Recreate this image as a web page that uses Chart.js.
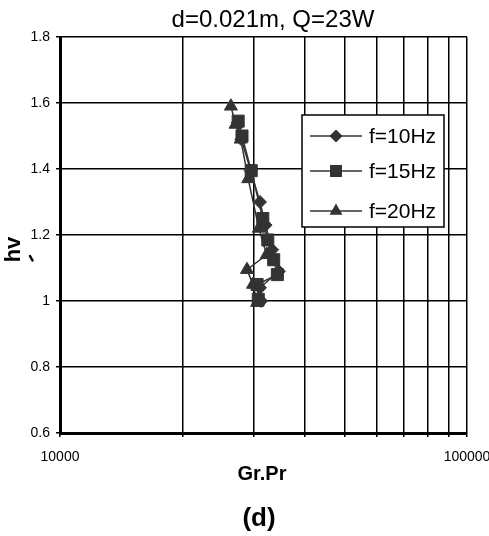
<!DOCTYPE html>
<html>
<head>
<meta charset="utf-8">
<script src="https://cdn.jsdelivr.net/npm/chart.js@4/dist/chart.umd.min.js"></script>
<style>
html,body{margin:0;padding:0;background:#fff;}
canvas{display:block;}
</style>
</head>
<body>
<canvas id="c" width="489" height="536"></canvas>
<script>
const titleText = "d=0.021m, Q=23W";
const xLabel = "Gr.Pr";
const yLabel = "hv";
const panelLabel = "(d)";
const seriesNames = ["f=10Hz", "f=15Hz", "f=20Hz"];
const xTickValues = [10000, 20000, 30000, 40000, 50000, 60000, 70000, 80000, 90000, 100000];
const xTickLabels = {10000: "10000", 100000: "100000"};

const f10x = [27300, 27900, 29400, 31000, 32000, 33200, 34500, 31000, 31200];
const f10y = [1.54, 1.49, 1.395, 1.30, 1.23, 1.155, 1.09, 1.04, 1.00];
const f15x = [27400, 28000, 29500, 31500, 32400, 33500, 34200, 30500, 30700];
const f15y = [1.545, 1.50, 1.395, 1.25, 1.185, 1.125, 1.08, 1.05, 1.005];
const f20x = [26300, 27000, 27800, 29000, 30800, 32200, 28800, 29800, 30500];
const f20y = [1.59, 1.535, 1.49, 1.37, 1.22, 1.14, 1.095, 1.05, 0.995];

function pts(xs, ys){ return xs.map((x,i)=>({x:x, y:ys[i]})); }

const styles = [
  {pointStyle:'rectRot', radius:6.5},
  {pointStyle:'rect', radius:8.5},
  {pointStyle:'triangle', radius:7.5}
];
const dataArr = [pts(f10x,f10y), pts(f15x,f15y), pts(f20x,f20y)];

const datasets = dataArr.map((d,i)=>({
  label: seriesNames[i],
  data: d,
  showLine: true,
  borderColor: '#333',
  backgroundColor: '#333',
  borderWidth: 1.5,
  pointStyle: styles[i].pointStyle,
  pointRadius: styles[i].radius,
  pointHoverRadius: styles[i].radius,
  pointBackgroundColor: '#333',
  pointBorderColor: '#333',
  pointBorderWidth: 1,
  tension: 0
}));

function drawMarker(ctx, style, x, y, r){
  ctx.beginPath();
  if(style==='rectRot'){
    ctx.moveTo(x-r,y); ctx.lineTo(x,y-r); ctx.lineTo(x+r,y); ctx.lineTo(x,y+r);
  } else if(style==='rect'){
    const s = Math.SQRT1_2*r;
    ctx.rect(x-s,y-s,2*s,2*s);
  } else {
    for(let k=0;k<3;k++){
      const a = k*2*Math.PI/3;
      const px = x + Math.sin(a)*r, py = y - Math.cos(a)*r;
      if(k===0) ctx.moveTo(px,py); else ctx.lineTo(px,py);
    }
  }
  ctx.closePath();
  ctx.fill();
}

const FONT = '"Liberation Sans", Arial, sans-serif';

const textPlugin = {
  id:'texts',
  afterDraw(chart){
    const ctx = chart.ctx;
    ctx.save();
    ctx.fillStyle = '#000';
    ctx.font = '24px ' + FONT;
    ctx.textAlign = 'center';
    ctx.textBaseline = 'alphabetic';
    ctx.fillText(titleText, 273, 27);
    ctx.font = 'bold 20px ' + FONT;
    ctx.fillText(xLabel, 262, 480);
    ctx.font = 'bold 26px ' + FONT;
    ctx.fillText(panelLabel, 259, 526);
    ctx.save();
    ctx.translate(20, 249.5);
    ctx.rotate(-Math.PI/2);
    ctx.font = 'bold 22px ' + FONT;
    ctx.fillText(yLabel, 0, 0);
    ctx.restore();
    ctx.strokeStyle = '#000';
    ctx.lineWidth = 2.5;
    ctx.lineCap = 'round';
    ctx.beginPath();
    ctx.moveTo(30, 256); ctx.lineTo(32.5, 260.5);
    ctx.stroke();
    ctx.lineCap = 'butt';
    const bx=302, by=115, bw=142, bh=112;
    ctx.fillStyle='#fff';
    ctx.fillRect(bx,by,bw,bh);
    ctx.strokeStyle='#000';
    ctx.lineWidth=1.5;
    ctx.strokeRect(bx,by,bw,bh);
    const ys=[136,171,211];
    ctx.font = '21px ' + FONT;
    ctx.textAlign='left';
    ctx.textBaseline='middle';
    for(let i=0;i<3;i++){
      ctx.strokeStyle='#333';
      ctx.lineWidth=1.5;
      ctx.beginPath();
      ctx.moveTo(310,ys[i]); ctx.lineTo(362,ys[i]); ctx.stroke();
      ctx.fillStyle='#333';
      drawMarker(ctx, styles[i].pointStyle, 336, ys[i], styles[i].radius);
      ctx.fillStyle='#000';
      ctx.fillText(seriesNames[i], 369, ys[i]+1);
    }
    ctx.restore();
  }
};

new Chart(document.getElementById('c'), {
  type: 'scatter',
  data: {datasets: datasets},
  options: {
    responsive: false,
    animation: false,
    layout: {padding: {top: 37, right: 22, left: 0, bottom: 0}},
    plugins: {legend:{display:false}, title:{display:false}, tooltip:{enabled:false}},
    scales: {
      x: {
        type: 'logarithmic',
        min: 10000, max: 100000,
        afterBuildTicks(s){ s.ticks = xTickValues.map(v=>({value:v, major:false})); },
        afterFit(s){ s.height = 103; s.paddingLeft = 0; s.paddingRight = 0; },
        border: {color:'#000', width:3},
        grid: {color:'#000', lineWidth:1.5, tickLength:4, drawTicks:true},
        ticks: {
          autoSkip:false, maxRotation:0, minRotation:0, padding:12,
          color:'#000',
          font:{family:FONT, size:14},
          callback(v){ return xTickLabels[Math.round(v)] || ''; }
        }
      },
      y: {
        min: 0.6, max: 1.8,
        afterFit(s){ s.width = 60; s.paddingTop = 0; s.paddingBottom = 0; },
        border: {color:'#000', width:3},
        grid: {color:'#000', lineWidth:1.5, tickLength:4, drawTicks:true},
        ticks: {
          stepSize: 0.2, padding:6, color:'#000',
          font:{family:FONT, size:14},
          callback(v){ return String(+v.toFixed(1)); }
        }
      }
    }
  },
  plugins: [textPlugin]
});
</script>
</body>
</html>
